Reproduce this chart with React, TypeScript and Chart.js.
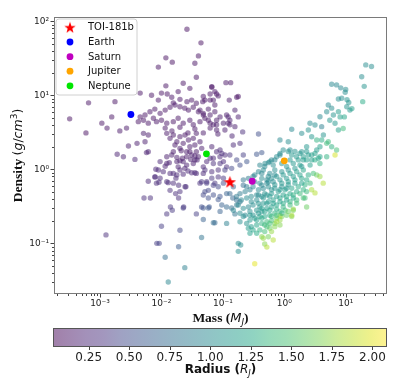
import React, { useEffect, useRef } from "react";
import { Chart, registerables } from "chart.js";

Chart.register(...registerables);

// ---------- small / rocky planets (mass in M_J, density in g/cm^3, radius in R_J) ----------
const rockyMass = [
  0.00032, 0.00065, 0.00059, 0.00107, 0.0013, 0.00155, 0.00175, 0.0027, 0.0019, 0.0024,
  0.0045, 0.0051, 0.0037, 0.0061, 0.00125, 0.0052, 0.0066, 0.0061, 0.0081, 0.0079,
  0.0091, 0.01, 0.0084, 0.0092, 0.0115, 0.0129, 0.019, 0.02, 0.024, 0.0122,
  0.014, 0.015, 0.023, 0.037, 0.019, 0.02, 0.019, 0.0156, 0.025, 0.0172,
  0.0129, 0.0138, 0.0156, 0.0122, 0.0134, 0.0095, 0.0178, 0.02, 0.022, 0.0257,
  0.03, 0.035, 0.038, 0.02, 0.024, 0.031, 0.037, 0.037, 0.029, 0.0156,
  0.021,
  0.026, 0.0118, 0.015, 0.0089, 0.035, 0.044, 0.04, 0.037, 0.0118, 0.0226,
  0.029, 0.0187, 0.048, 0.066, 0.074, 0.112, 0.134, 0.0069, 0.01, 0.0124,
  0.0147, 0.0089, 0.0156, 0.02, 0.026, 0.031, 0.037, 0.047, 0.062, 0.084,
  0.127, 0.168, 0.178,
  0.0045, 0.0054, 0.0065, 0.0078, 0.0095, 0.0115, 0.0138, 0.0166, 0.02, 0.024,
  0.0275, 0.033, 0.04, 0.048, 0.058, 0.074, 0.09, 0.115, 0.157,
  0.0042, 0.0051, 0.0061, 0.0074, 0.0083, 0.01, 0.0122, 0.0156, 0.0187, 0.0226,
  0.029, 0.033, 0.0424, 0.051, 0.062, 0.079, 0.102, 0.13, 0.157, 0.178,
  0.0115, 0.0148, 0.02, 0.027, 0.035, 0.048, 0.062, 0.083, 0.108, 0.141,
  0.0122, 0.0138, 0.0156, 0.0178, 0.02, 0.0226, 0.0242, 0.0275, 0.029, 0.033,
  0.035, 0.037, 0.0424, 0.0452, 0.0257, 0.02, 0.0166, 0.031, 0.035, 0.04,
  0.033, 0.0226, 0.0178, 0.0187, 0.0257, 0.0115, 0.0122, 0.0147, 0.048, 0.0545,
  0.066, 0.079, 0.0897, 0.07, 0.102, 0.115, 0.084, 0.066, 0.048, 0.035,
  0.027, 0.0226, 0.0178, 0.0107, 0.0089, 0.0078, 0.0095, 0.0122, 0.0138, 0.017,
  0.0242, 0.0424, 0.0545, 0.074, 0.084, 0.102, 0.058, 0.048, 0.07, 0.0897,
  0.058, 0.0083, 0.0226, 0.048, 0.058, 0.048, 0.07, 0.115, 0.045, 0.0029,
  0.0057, 0.004, 0.0054, 0.0061, 0.0021,
  0.066, 0.079, 0.062, 0.07, 0.074, 0.051, 0.0424, 0.048, 0.062, 0.058,
  0.07, 0.079, 0.122, 0.13, 0.21, 0.38, 0.19, 0.148, 0.355, 0.43,
  0.09, 0.108, 0.215, 0.079, 0.122,
  0.045, 0.0545, 0.066, 0.07, 0.084, 0.102, 0.051, 0.084, 0.096, 0.045,
  0.06, 0.09, 0.115, 0.139, 0.074, 0.157, 0.168, 0.19, 0.115, 0.13,
  0.148, 0.215, 0.108, 0.139, 0.19, 0.245, 0.168, 0.13, 0.096, 0.07,
  0.09, 0.051, 0.062, 0.145, 0.167,
];
const rockyDensity = [
  4.8, 7.9, 3.1, 4.2, 3.6, 5.1, 8.2, 3.6, 1.6, 1.48,
  10.7, 3.06, 1.36, 1.73, 0.13, 0.41, 0.41, 0.69, 1.0, 0.79,
  0.67, 0.17, 0.1, 0.1, 0.065, 0.03, 0.09, 0.15, 0.047, 0.25,
  0.31, 0.28, 0.31, 0.25, 0.41, 0.5, 0.61, 0.65, 0.58, 0.76,
  0.66, 0.88, 0.88, 1.2, 1.23, 1.27, 1.45, 1.3, 1.41, 1.48,
  1.36, 1.51, 1.34, 0.98, 1.03, 0.9, 0.88, 1.73, 1.73, 1.73,
  1.78,
  78, 32, 28, 24, 27, 51, 34, 17.5, 13.4, 14.5,
  12.4, 11.2, 9.6, 13.1, 11.2, 14.8, 14.8, 10, 10.7, 10.4,
  9.4, 8.6, 7.9, 8.8, 8.2, 8.6, 7.8, 8.2, 8.6, 9.8,
  8.6, 9.4, 9.6,
  5.1, 5.4, 6.0, 6.5, 5.7, 6.3, 6.9, 7.4, 7.0, 6.7,
  6.3, 6.9, 6.0, 5.7, 6.5, 6.0, 5.1, 5.4, 6.3,
  4.4, 4.6, 4.2, 4.9, 4.4, 4.6, 4.2, 4.4, 4.9, 4.2,
  4.6, 4.0, 4.4, 4.9, 4.2, 4.6, 4.2, 4.6, 3.77, 5.1,
  3.6, 3.3, 3.7, 3.1, 3.5, 3.1, 3.6, 3.0, 3.4, 2.82,
  3.06, 2.62, 2.91, 2.36, 2.76, 2.24, 2.91, 2.49, 2.02, 2.62,
  2.13, 3.06, 2.36, 1.92, 1.73, 1.92, 2.13, 1.56, 1.34, 1.48,
  1.2, 1.27, 1.27, 1.08, 1.14, 1.1, 1.48, 1.56, 1.08, 1.27,
  2.02, 1.73, 1.48, 1.41, 1.27, 1.08, 0.98, 0.93, 0.88, 0.9,
  0.95, 0.86, 0.84, 0.93, 0.98, 0.79, 0.76, 0.68, 0.52, 0.47,
  0.58, 0.65, 0.68, 0.65, 0.79, 0.76, 0.52, 0.45, 0.45, 0.43,
  0.41, 0.65, 0.3, 0.3, 0.3, 0.21, 0.19, 0.186, 0.12, 2.06,
  1.68, 2.24, 2.36, 2.91, 3.3,
  12.8, 10.4, 10.4, 8.6, 7.4, 8.6, 6.3, 5.4, 5.4, 4.6,
  4.0, 3.4, 5.1, 4.0, 3.2, 3.0, 2.24, 2.13, 1.6, 1.68,
  1.82, 1.56, 1.56, 4.0, 4.2,
  0.68, 0.65, 0.76, 0.61, 0.58, 0.65, 0.5, 0.39, 0.33, 0.31,
  0.31, 0.27, 0.31, 0.3, 0.19, 0.25, 0.33, 0.365, 0.47, 0.47,
  0.58, 0.61, 0.98, 1.03, 1.14, 1.27, 1.34, 1.56, 1.64, 1.2,
  1.2, 0.98, 1.41, 0.41, 0.385,
];
const rockyRadius = [
  0.1, 0.12, 0.1, 0.12, 0.13, 0.12, 0.11, 0.15, 0.2, 0.2,
  0.12, 0.18, 0.22, 0.2, 0.3, 0.3, 0.3, 0.25, 0.22, 0.25,
  0.28, 0.4, 0.4, 0.42, 0.75, 0.95, 0.6, 0.45, 0.9, 0.35,
  0.35, 0.38, 0.35, 0.4, 0.3, 0.3, 0.28, 0.27, 0.28, 0.25,
  0.27, 0.24, 0.24, 0.2, 0.2, 0.22, 0.18, 0.18, 0.16, 0.16,
  0.18, 0.17, 0.2, 0.22, 0.2, 0.22, 0.24, 0.15, 0.14, 0.16,
  0.15,
  0.1, 0.1, 0.1, 0.11, 0.11, 0.1, 0.11, 0.12, 0.11, 0.12,
  0.12, 0.12, 0.13, 0.12, 0.13, 0.14, 0.14, 0.12, 0.12, 0.12,
  0.13, 0.13, 0.13, 0.13, 0.14, 0.13, 0.14, 0.14, 0.13, 0.14,
  0.15, 0.12, 0.12,
  0.12, 0.12, 0.13, 0.12, 0.13, 0.12, 0.12, 0.13, 0.12, 0.13,
  0.13, 0.14, 0.14, 0.14, 0.15, 0.15, 0.16, 0.17, 0.18,
  0.12, 0.13, 0.13, 0.12, 0.13, 0.12, 0.13, 0.12, 0.12, 0.13,
  0.13, 0.14, 0.14, 0.14, 0.15, 0.15, 0.16, 0.17, 0.18, 0.17,
  0.14, 0.14, 0.13, 0.14, 0.14, 0.15, 0.15, 0.16, 0.17, 0.2,
  0.15, 0.15, 0.14, 0.15, 0.14, 0.15, 0.14, 0.15, 0.16, 0.15,
  0.16, 0.15, 0.16, 0.17, 0.16, 0.16, 0.15, 0.17, 0.18, 0.18,
  0.19, 0.19, 0.19, 0.2, 0.2, 0.21, 0.18, 0.18, 0.22, 0.22,
  0.2, 0.22, 0.24, 0.22, 0.26, 0.3, 0.28, 0.26, 0.25, 0.24,
  0.24, 0.24, 0.25, 0.24, 0.24, 0.26, 0.27, 0.28, 0.3, 0.3,
  0.3, 0.32, 0.33, 0.35, 0.33, 0.35, 0.45, 0.45, 0.5, 0.55,
  0.5, 0.28, 0.4, 0.55, 0.6, 0.65, 0.75, 0.9, 0.8, 0.18,
  0.2, 0.17, 0.17, 0.16, 0.15,
  0.13, 0.13, 0.12, 0.14, 0.14, 0.13, 0.14, 0.14, 0.15, 0.15,
  0.15, 0.16, 0.18, 0.18, 0.3, 0.5, 0.3, 0.25, 0.55, 0.55,
  0.25, 0.28, 0.4, 0.16, 0.18,
  0.35, 0.38, 0.35, 0.4, 0.45, 0.45, 0.45, 0.55, 0.65, 0.5,
  0.55, 0.65, 0.7, 0.75, 0.7, 0.8, 0.85, 0.8, 0.65, 0.7,
  0.7, 0.75, 0.4, 0.45, 0.5, 0.55, 0.45, 0.35, 0.3, 0.3,
  0.32, 0.28, 0.25, 0.7, 0.75,
];

// ---------- giant planets ----------
const giantMass = [
  0.55, 0.62, 0.75, 0.85, 1.16, 1.32, 1.49, 1.8, 2.04, 2.31,
  2.79, 3.16, 3.58, 3.8, 2.63, 1.8, 1.4, 1.09, 0.7, 0.58,
  0.455, 0.38, 0.33, 0.43, 0.52, 0.62, 0.75, 0.96, 1.24, 1.59,
  2.04, 2.46, 2.97, 1.92, 1.49, 1.16, 0.91, 0.7, 0.55, 0.455,
  0.38, 0.31, 0.276, 0.244, 0.23, 0.19, 0.167, 0.2, 0.244, 0.29,
  0.355, 0.43, 0.52, 0.62, 0.8, 1.03, 1.32, 1.69, 2.17, 2.63,
  1.8, 1.4, 1.09, 0.85, 0.66, 0.55, 0.455, 0.38, 0.31, 0.26,
  0.215, 0.178, 0.148, 0.19, 0.23, 0.276, 0.355, 0.43, 0.52, 0.62,
  0.75, 0.96, 1.24, 1.59, 2.04, 2.31, 1.03, 0.85, 0.7, 0.58,
  0.48, 0.4, 0.33, 0.276, 0.244, 0.29, 0.355, 0.43, 0.52, 0.62,
  0.75, 0.91, 1.09, 1.4, 1.32, 0.85, 0.7, 0.58, 0.48, 0.43,
  0.355, 0.31, 0.276, 0.26, 0.215, 0.19, 0.52, 0.62, 0.55, 6.7,
  3.37, 3.8, 4.3, 2.79, 3.16, 2.17, 2.31, 1.4, 1.32, 0.85,
  0.75, 0.455, 0.48, 0.52, 0.66, 0.33, 0.178, 0.195, 0.178, 0.215,
  0.26, 0.31, 0.85, 1.16, 1.32, 1.92, 2.46, 2.62, 2.79, 3.16,
  3.37, 3.81, 4.06, 4.33, 4.9, 5.2, 5.9, 6.3, 5.5, 6.7,
  7.6, 3.81, 4.9, 5.9, 7.1, 2.31, 1.92, 1.58, 1.24, 0.96,
  0.85, 0.7, 0.58, 0.485, 0.4, 8.1, 8.6, 10.4, 11.7, 4.06,
  3.37, 2.79, 2.04, 4.9, 3.81, 3.16, 2.46, 7.6, 5.2, 21.2,
  26.3, 18.2, 20, 18.9, 5.9, 7.1, 8.3, 10.0, 9.8, 7.6,
  10.5, 11.2, 12.6, 9.5, 9.1,
  0.48, 0.66, 0.91, 1.24, 1.69, 2.31, 0.4, 0.52, 0.66, 0.85,
  1.09, 1.4, 1.8, 2.31, 0.355, 0.455, 0.58, 0.75, 0.96, 1.24,
  1.59, 2.04, 0.31, 0.38, 0.48, 0.58, 0.75, 0.96, 1.24, 1.59,
  0.355, 0.43, 0.62, 0.75, 1.16, 0.4, 0.48, 0.58, 0.7, 0.85,
  0.43, 0.55, 0.7, 0.91, 1.16, 1.49, 1.92, 0.33, 0.43, 0.55,
  0.7, 0.91, 1.16, 1.49, 1.92, 0.38, 0.48, 0.62, 0.85, 1.09,
  0.29, 0.4, 0.52, 0.66, 0.85, 1.09, 1.4, 0.276, 0.43, 0.91,
];
const giantDensity = [
  1.23, 1.34, 1.48, 1.64, 1.74, 1.56, 1.74, 1.64, 1.48, 1.74,
  1.56, 1.34, 1.41, 1.2, 1.14, 1.14, 1.2, 1.09, 0.98, 0.88,
  0.98, 0.93, 0.84, 0.755, 0.72, 0.755, 0.8, 0.84, 0.88, 0.93,
  0.98, 0.84, 0.88, 0.755, 0.72, 0.68, 0.65, 0.62, 0.58, 0.55,
  0.53, 0.58, 0.53, 0.58, 0.5, 0.47, 0.43, 0.385, 0.41, 0.43,
  0.45, 0.43, 0.45, 0.47, 0.5, 0.53, 0.555, 0.58, 0.62, 0.65,
  0.47, 0.45, 0.43, 0.41, 0.385, 0.366, 0.347, 0.347, 0.33, 0.31,
  0.297, 0.33, 0.28, 0.255, 0.24, 0.27, 0.28, 0.27, 0.297, 0.31,
  0.33, 0.347, 0.366, 0.385, 0.41, 0.5, 0.28, 0.27, 0.255, 0.24,
  0.23, 0.23, 0.218, 0.207, 0.186, 0.168, 0.177, 0.186, 0.196, 0.203,
  0.218, 0.23, 0.24, 0.28, 0.23, 0.207, 0.186, 0.16, 0.144, 0.123,
  0.137, 0.152, 0.137, 0.16, 0.23, 0.196, 0.168, 0.144, 0.123, 1.56,
  0.84, 0.8, 0.65, 0.53, 0.48, 0.41, 0.31, 0.29, 0.24, 0.234,
  0.196, 0.117, 0.098, 0.089, 0.111, 0.053, 0.1, 0.095, 0.078, 0.72,
  0.755, 0.8, 2.49, 2.36, 3.47, 3.06, 3.4, 4.19, 2.75, 3.97,
  2.49, 5.13, 3.77, 2.9, 6.0, 7.4, 6.7, 5.4, 4.6, 4.19,
  6.0, 2.02, 2.24, 2.02, 1.82, 2.02, 1.73, 1.48, 1.82, 1.82,
  1.56, 1.34, 1.27, 1.2, 1.14, 5.1, 9.1, 7.0, 6.3, 2.49,
  1.82, 1.34, 1.34, 1.48, 1.48, 1.64, 1.56, 3.4, 2.36, 25.7,
  24.5, 17.8, 13.2, 8.2, 14.1, 13.8, 12.6, 12.0, 11.0, 8.9,
  8.7, 8.0, 6.6, 5.1, 3.55,
  1.09, 1.14, 1.2, 1.34, 1.34, 1.34, 0.65, 0.65, 0.68, 0.72,
  0.755, 0.8, 0.84, 0.72, 0.385, 0.41, 0.43, 0.43, 0.45, 0.47,
  0.5, 0.53, 0.24, 0.255, 0.27, 0.28, 0.29, 0.31, 0.33, 0.347,
  0.207, 0.218, 0.23, 0.24, 0.27, 0.152, 0.177, 0.186, 0.168, 0.177,
  0.88, 0.8, 0.84, 0.93, 0.98, 1.03, 1.09, 0.68, 0.61, 0.68,
  0.555, 0.58, 0.62, 0.65, 0.65, 0.45, 0.47, 0.53, 0.53, 0.555,
  0.366, 0.31, 0.347, 0.347, 0.366, 0.385, 0.41, 0.24, 0.297, 0.255,
];
const giantRadius = [
  0.97, 0.97, 1.02, 1.02, 1.06, 1.1, 1.06, 1.1, 1.14, 1.1,
  1.18, 1.27, 1.22, 1.32, 1.18, 1.14, 1.1, 1.06, 1.02, 0.97,
  1.0, 0.95, 0.95, 1.0, 0.97, 1.02, 1.06, 1.1, 1.14, 1.18,
  1.22, 1.27, 1.44, 1.22, 1.18, 1.14, 1.1, 1.06, 1.02, 0.97,
  1.0, 0.95, 0.9, 0.85, 0.9, 0.85, 0.85, 0.95, 1.0, 1.0,
  0.97, 1.02, 1.06, 1.1, 1.14, 1.18, 1.22, 1.27, 1.32, 1.38,
  1.38, 1.32, 1.27, 1.22, 1.18, 1.14, 1.1, 1.06, 1.02, 0.97,
  1.0, 0.95, 0.95, 1.0, 0.97, 1.02, 1.06, 1.1, 1.14, 1.18,
  1.22, 1.27, 1.32, 1.38, 1.44, 1.38, 1.44, 1.38, 1.32, 1.27,
  1.22, 1.18, 1.14, 1.1, 1.06, 1.14, 1.22, 1.32, 1.38, 1.44,
  1.6, 1.65, 1.6, 1.65, 1.7, 1.75, 1.65, 1.6, 1.44, 1.7,
  1.27, 1.22, 1.18, 1.14, 1.02, 1.02, 1.44, 1.75, 1.65, 1.95,
  1.6, 1.75, 1.85, 1.8, 1.85, 1.44, 1.6, 1.75, 1.8, 1.8,
  1.8, 1.75, 1.7, 1.85, 1.85, 2.0, 1.02, 1.02, 1.02, 0.8,
  0.85, 0.9, 0.97, 1.02, 0.97, 1.02, 1.06, 1.02, 1.1, 1.02,
  1.32, 0.97, 0.9, 1.06, 1.02, 0.97, 1.02, 1.06, 1.1, 1.1,
  1.14, 1.18, 1.38, 1.32, 1.44, 1.1, 1.06, 1.1, 1.02, 1.02,
  0.97, 0.97, 1.0, 1.0, 0.95, 1.18, 1.02, 1.06, 1.1, 1.27,
  1.14, 1.18, 1.14, 1.32, 1.22, 1.18, 1.14, 1.18, 1.38, 1.02,
  1.02, 1.02, 1.06, 1.27, 0.97, 0.97, 0.97, 1.02, 1.02, 1.02,
  1.06, 1.06, 1.18, 1.22, 1.38,
  0.97, 1.02, 1.06, 1.1, 1.14, 1.18, 1.0, 0.97, 1.02, 1.06,
  1.1, 1.14, 1.18, 1.27, 1.02, 1.06, 1.1, 1.14, 1.18, 1.22,
  1.27, 1.32, 1.06, 1.1, 1.18, 1.22, 1.27, 1.32, 1.38, 1.44,
  1.18, 1.27, 1.38, 1.44, 1.6, 1.32, 1.38, 1.44, 1.7, 1.7,
  0.95, 1.0, 1.0, 1.05, 1.05, 1.1, 1.1, 0.9, 0.95, 1.0,
  1.05, 1.05, 1.1, 1.15, 1.2, 1.0, 1.05, 1.05, 1.1, 1.1,
  1.0, 1.05, 1.1, 1.15, 1.2, 1.2, 1.25, 1.1, 1.15, 1.3,
];

// ---------- reference planets ----------
const planetNames = ["TOI-181b", "Earth", "Saturn", "Jupiter", "Neptune"];
const planetMass = [0.13, 0.00318, 0.3, 1.0, 0.054];
const planetDensity = [0.68, 5.5, 0.69, 1.3, 1.62];
const planetColors = ["#ff0000", "#0000ff", "#c000c0", "#ffa500", "#00e600"];

// ---------- axes ----------
const massTicks = [1e-3, 1e-2, 1e-1, 1, 10];
const densityTicks = [0.1, 1, 10, 100];
const radiusTicks = [0.25, 0.5, 0.75, 1.0, 1.25, 1.5, 1.75, 2.0];
const massRange = [1.78e-4, 47];
const densityRange = [0.0207, 114];
const radiusRange = [0.03, 2.09];

const VIRIDIS = [
  "#440154", "#471365", "#482475", "#472f7d", "#414487", "#3b528b", "#355f8d",
  "#2f6c8e", "#2a788e", "#25848e", "#21918c", "#1e9c89", "#22a884", "#35b779",
  "#44bf70", "#5ec962", "#7ad151", "#9fda3a", "#bddf26", "#dfe318", "#fde725",
];

function hexRgb(h: string) {
  return [parseInt(h.slice(1, 3), 16), parseInt(h.slice(3, 5), 16), parseInt(h.slice(5, 7), 16)];
}
function viridis(t: number, a: number) {
  const tt = Math.max(0, Math.min(1, t));
  const p = tt * (VIRIDIS.length - 1);
  const i = Math.min(VIRIDIS.length - 2, Math.floor(p));
  const f = p - i;
  const c0 = hexRgb(VIRIDIS[i]);
  const c1 = hexRgb(VIRIDIS[i + 1]);
  const c = c0.map((v, k) => Math.round(v + (c1[k] - v) * f));
  return `rgba(${c[0]},${c[1]},${c[2]},${a})`;
}
function radiusColor(r: number) {
  return viridis((r - radiusRange[0]) / (radiusRange[1] - radiusRange[0]), 0.5);
}

const SUP: Record<string, string> = {
  "-": "\u207B", "0": "\u2070", "1": "\u00B9", "2": "\u00B2", "3": "\u00B3",
  "4": "\u2074", "5": "\u2075", "6": "\u2076", "7": "\u2077", "8": "\u2078", "9": "\u2079",
};
function powLabel(v: number) {
  const e = Math.round(Math.log10(v));
  return "10" + String(e).split("").map((c) => SUP[c]).join("");
}

function makeStar(size: number, color: string) {
  const c = document.createElement("canvas");
  c.width = size;
  c.height = size;
  const ctx = c.getContext("2d")!;
  const R = size / 2;
  const r = R * 0.4;
  const cx = size / 2;
  const cy = size / 2 + R * 0.1;
  ctx.beginPath();
  for (let i = 0; i < 10; i++) {
    const ang = -Math.PI / 2 + (i * Math.PI) / 5;
    const rad = i % 2 === 0 ? R : r;
    ctx.lineTo(cx + rad * Math.cos(ang), cy + rad * Math.sin(ang));
  }
  ctx.closePath();
  ctx.fillStyle = color;
  ctx.fill();
  return c;
}

type Seg = { t: string; f: string; dy?: number };
function drawSegs(ctx: CanvasRenderingContext2D, segs: Seg[], cx: number, cy: number, rot: number) {
  ctx.save();
  ctx.translate(cx, cy);
  ctx.rotate(rot);
  let total = 0;
  for (const s of segs) {
    ctx.font = s.f;
    total += ctx.measureText(s.t).width;
  }
  let x = -total / 2;
  ctx.textAlign = "left";
  ctx.textBaseline = "alphabetic";
  ctx.fillStyle = "#111";
  for (const s of segs) {
    ctx.font = s.f;
    ctx.fillText(s.t, x, s.dy || 0);
    x += ctx.measureText(s.t).width;
  }
  ctx.restore();
}

function pts(ms: number[], ds: number[]) {
  const n = Math.min(ms.length, ds.length);
  const out: { x: number; y: number }[] = [];
  for (let i = 0; i < n; i++) out.push({ x: ms[i], y: ds[i] });
  return out;
}

export default function App() {
  const mainRef = useRef<HTMLCanvasElement>(null);
  const barRef = useRef<HTMLCanvasElement>(null);

  useEffect(() => {
    const star = makeStar(13, "#ff0000");
    const legendStar = makeStar(12, "#ff0000");

    const mainPlugin = {
      id: "mainDecor",
      afterDatasetsDraw(chart: any) {
        const { ctx, chartArea: a, scales } = chart;
        const xs = scales.x;
        const ys = scales.y;
        ctx.save();
        ctx.strokeStyle = "#7a7a7a";
        ctx.lineWidth = 1;
        ctx.strokeRect(a.left + 0.5, a.top + 0.5, a.right - a.left - 1, a.bottom - a.top - 1);
        ctx.strokeStyle = "#444";
        ctx.beginPath();
        for (let e = -5; e <= 3; e++) {
          for (let k = 1; k <= 9; k++) {
            const v = k * Math.pow(10, e);
            const len = k === 1 ? 3.5 : 2;
            if (v >= xs.min && v <= xs.max) {
              const px = Math.round(xs.getPixelForValue(v)) + 0.5;
              ctx.moveTo(px, a.bottom);
              ctx.lineTo(px, a.bottom + len);
            }
            if (v >= ys.min && v <= ys.max) {
              const py = Math.round(ys.getPixelForValue(v)) + 0.5;
              ctx.moveTo(a.left, py);
              ctx.lineTo(a.left - len, py);
            }
          }
        }
        ctx.stroke();

        // legend
        const lx = 56, ly = 19, lw = 81, lh = 76, rr = 3;
        ctx.beginPath();
        ctx.moveTo(lx + rr, ly);
        ctx.arcTo(lx + lw, ly, lx + lw, ly + lh, rr);
        ctx.arcTo(lx + lw, ly + lh, lx, ly + lh, rr);
        ctx.arcTo(lx, ly + lh, lx, ly, rr);
        ctx.arcTo(lx, ly, lx + lw, ly, rr);
        ctx.closePath();
        ctx.fillStyle = "rgba(255,255,255,0.8)";
        ctx.fill();
        ctx.strokeStyle = "#d0d0d0";
        ctx.stroke();
        const rowY = [27.3, 42, 56.7, 71.2, 85.8];
        ctx.font = "10px 'DejaVu Sans'";
        ctx.textBaseline = "middle";
        ctx.textAlign = "left";
        planetNames.forEach((name, i) => {
          const y = rowY[i];
          if (i === 0) {
            ctx.drawImage(legendStar, 70 - 6, y - 6);
          } else {
            ctx.beginPath();
            ctx.arc(70, y, 3.4, 0, Math.PI * 2);
            ctx.fillStyle = planetColors[i];
            ctx.fill();
          }
          ctx.fillStyle = "#111";
          ctx.fillText(name, 88, y + 0.5);
        });

        drawSegs(ctx, [
          { t: "Mass (", f: "bold 13.5px 'Liberation Serif'" },
          { t: "M", f: "italic 13px 'DejaVu Sans'" },
          { t: "J", f: "italic 9px 'DejaVu Sans'", dy: 2.5 },
          { t: ")", f: "bold 13.5px 'Liberation Serif'" },
        ], 220.5, 322, 0);
        drawSegs(ctx, [
          { t: "Density ", f: "bold 13.5px 'Liberation Serif'" },
          { t: "(", f: "12.5px 'DejaVu Sans'" },
          { t: "g", f: "italic 12.5px 'DejaVu Sans'" },
          { t: "/", f: "12.5px 'DejaVu Sans'" },
          { t: "cm", f: "italic 12.5px 'DejaVu Sans'" },
          { t: "3", f: "9px 'DejaVu Sans'", dy: -5 },
          { t: ")", f: "12.5px 'DejaVu Sans'" },
        ], 21.5, 155.5, -Math.PI / 2);
        ctx.restore();
      },
    };

    const tickFont = { family: "'DejaVu Sans'", size: 9 };

    const main = new Chart(mainRef.current!, {
      type: "scatter",
      data: {
        datasets: [
          ...planetNames.map((name, i) => ({
            label: name,
            data: [{ x: planetMass[i], y: planetDensity[i] }],
            pointStyle: i === 0 ? (star as any) : "circle",
            pointRadius: i === 0 ? 6 : 3.4,
            backgroundColor: planetColors[i],
            pointBackgroundColor: planetColors[i],
            pointBorderWidth: 0,
            borderWidth: 0,
          })),
          {
            label: "giants",
            data: pts(giantMass, giantDensity),
            pointRadius: 2.7,
            pointBackgroundColor: giantRadius.map(radiusColor),
            pointBorderWidth: 0,
            borderWidth: 0,
          },
          {
            label: "small",
            data: pts(rockyMass, rockyDensity),
            pointRadius: 2.7,
            pointBackgroundColor: rockyRadius.map(radiusColor),
            pointBorderWidth: 0,
            borderWidth: 0,
          },
        ],
      },
      options: {
        responsive: false,
        animation: false,
        events: [],
        layout: { padding: { left: 0, top: 17, right: 13, bottom: 0 } },
        plugins: { legend: { display: false }, tooltip: { enabled: false } },
        scales: {
          x: {
            type: "logarithmic",
            min: massRange[0],
            max: massRange[1],
            bounds: "data",
            grid: { display: false, drawTicks: false },
            border: { display: false },
            ticks: {
              font: tickFont,
              color: "#222",
              padding: 4,
              maxRotation: 0,
              autoSkip: false,
              callback: (v: any) => powLabel(Number(v)),
            },
            afterBuildTicks: (s: any) => {
              s.ticks = massTicks.map((v) => ({ value: v }));
            },
            afterFit: (s: any) => {
              s.height = 36;
            },
          },
          y: {
            type: "logarithmic",
            min: densityRange[0],
            max: densityRange[1],
            bounds: "data",
            grid: { display: false, drawTicks: false },
            border: { display: false },
            ticks: {
              font: tickFont,
              color: "#222",
              padding: 5,
              autoSkip: false,
              callback: (v: any) => powLabel(Number(v)),
            },
            afterBuildTicks: (s: any) => {
              s.ticks = densityTicks.map((v) => ({ value: v }));
            },
            afterFit: (s: any) => {
              s.width = 54;
            },
          },
        },
      },
      plugins: [mainPlugin],
    } as any);

    const barPlugin = {
      id: "colorbar",
      afterDraw(chart: any) {
        const { ctx, chartArea: a, scales } = chart;
        const xs = scales.x;
        ctx.save();
        const g = ctx.createLinearGradient(a.left, 0, a.right, 0);
        VIRIDIS.forEach((h, i) => {
          const c = hexRgb(h);
          g.addColorStop(i / (VIRIDIS.length - 1), `rgba(${c[0]},${c[1]},${c[2]},0.5)`);
        });
        ctx.fillStyle = "#fff";
        ctx.fillRect(a.left, a.top, a.right - a.left, a.bottom - a.top);
        ctx.fillStyle = g;
        ctx.fillRect(a.left, a.top, a.right - a.left, a.bottom - a.top);
        ctx.strokeStyle = "#555";
        ctx.lineWidth = 1;
        ctx.strokeRect(a.left + 0.5, a.top + 0.5, a.right - a.left - 1, a.bottom - a.top - 1);
        ctx.strokeStyle = "#444";
        ctx.beginPath();
        radiusTicks.forEach((v) => {
          const px = Math.round(xs.getPixelForValue(v)) + 0.5;
          ctx.moveTo(px, a.bottom);
          ctx.lineTo(px, a.bottom + 3);
        });
        ctx.stroke();
        drawSegs(ctx, [
          { t: "Radius (", f: "bold 12px 'DejaVu Sans'" },
          { t: "R", f: "italic 12px 'DejaVu Sans'" },
          { t: "J", f: "italic 8.5px 'DejaVu Sans'", dy: 2.5 },
          { t: ")", f: "bold 12px 'DejaVu Sans'" },
        ], 220.5, 53, 0);
        ctx.restore();
      },
    };

    const bar = new Chart(barRef.current!, {
      type: "scatter",
      data: { datasets: [] },
      options: {
        responsive: false,
        animation: false,
        events: [],
        layout: { padding: { left: 53, top: 8, right: 13, bottom: 0 } },
        plugins: { legend: { display: false }, tooltip: { enabled: false } },
        scales: {
          x: {
            type: "linear",
            min: radiusRange[0],
            max: radiusRange[1],
            grid: { display: false, drawTicks: false },
            border: { display: false },
            ticks: {
              font: { family: "'DejaVu Sans'", size: 12 },
              color: "#222",
              padding: 4,
              maxRotation: 0,
              autoSkip: false,
              callback: (v: any) => Number(v).toFixed(2),
            },
            afterBuildTicks: (s: any) => {
              s.ticks = radiusTicks.map((v) => ({ value: v }));
            },
            afterFit: (s: any) => {
              s.height = 37;
            },
          },
          y: { display: false, min: 0, max: 1 },
        },
      },
      plugins: [barPlugin],
    } as any);

    return () => {
      main.destroy();
      bar.destroy();
    };
  }, []);

  return (
    <div style={{ position: "absolute", left: 0, top: 0, width: 400, height: 384, background: "#fff" }}>
      <canvas
        ref={mainRef}
        width={400}
        height={330}
        style={{ position: "absolute", left: 0, top: 0, width: 400, height: 330 }}
      />
      <canvas
        ref={barRef}
        width={400}
        height={64}
        style={{ position: "absolute", left: 0, top: 320, width: 400, height: 64 }}
      />
    </div>
  );
}
